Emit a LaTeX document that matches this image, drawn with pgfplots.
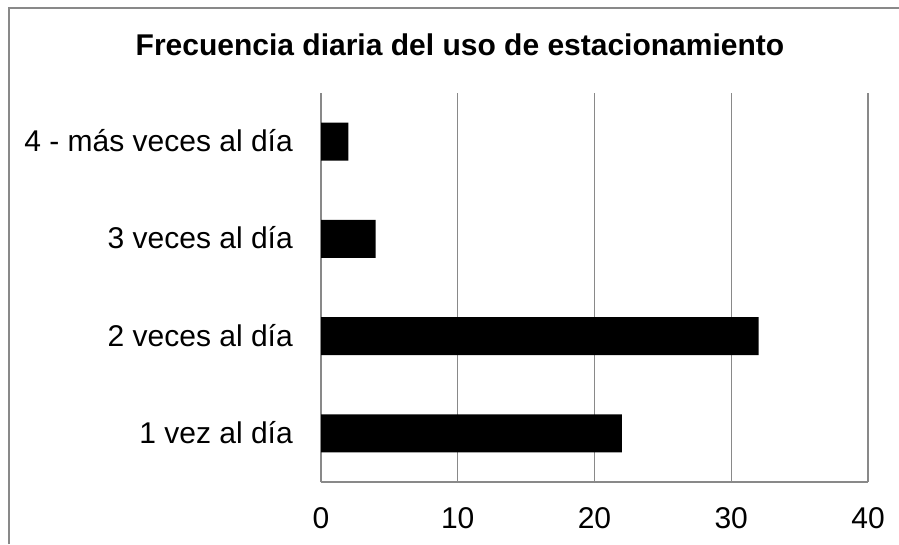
\documentclass[border=0pt]{standalone}
\usepackage{fontspec}
\setmainfont{Liberation Sans}
\usepackage{pgfplots}
\pgfplotsset{compat=1.18}
\definecolor{gridgray}{HTML}{898989}

\begin{document}
\begin{tikzpicture}[x=1pt,y=1pt]
\useasboundingbox (0,0) rectangle (899,544);
% outer chart frame (cut off at right and bottom)
\draw[gridgray, line width=2pt] (9,0) -- (9,536) -- (899,536);
\node[anchor=base, font=\fontsize{30}{36}\selectfont\bfseries]
  at (460,488) {Frecuencia diaria del uso de estacionamiento};
\begin{axis}[
    at={(321pt,62pt)}, anchor=south west,
    width=547pt, height=389pt, scale only axis,
    xbar, bar width=38pt, bar shift=0pt,
    xmin=0, xmax=40, ymin=0.5, ymax=4.5,
    xtick={0,10,20,30,40},
    ytick={1,2,3,4},
    yticklabels={1 vez al día, 2 veces al día, 3 veces al día, 4 - más veces al día},
    axis x line*=bottom, axis y line*=left,
    axis line style={gridgray, line width=2pt, -},
    xmajorgrids, major grid style={gridgray, line width=1.3pt},
    major tick length=0pt,
    tick label style={font=\fontsize{30}{36}\selectfont, inner sep=0pt},
    xticklabel style={anchor=base, yshift=-46pt},
    yticklabel style={anchor=base east, xshift=-28pt, yshift=-10pt},
    /pgf/number format/assume math mode=true,
    clip=false,
    ]
\addplot[fill=black, draw=none] coordinates {(22,1) (32,2) (4,3) (2,4)};
\end{axis}
\end{tikzpicture}
\end{document}
